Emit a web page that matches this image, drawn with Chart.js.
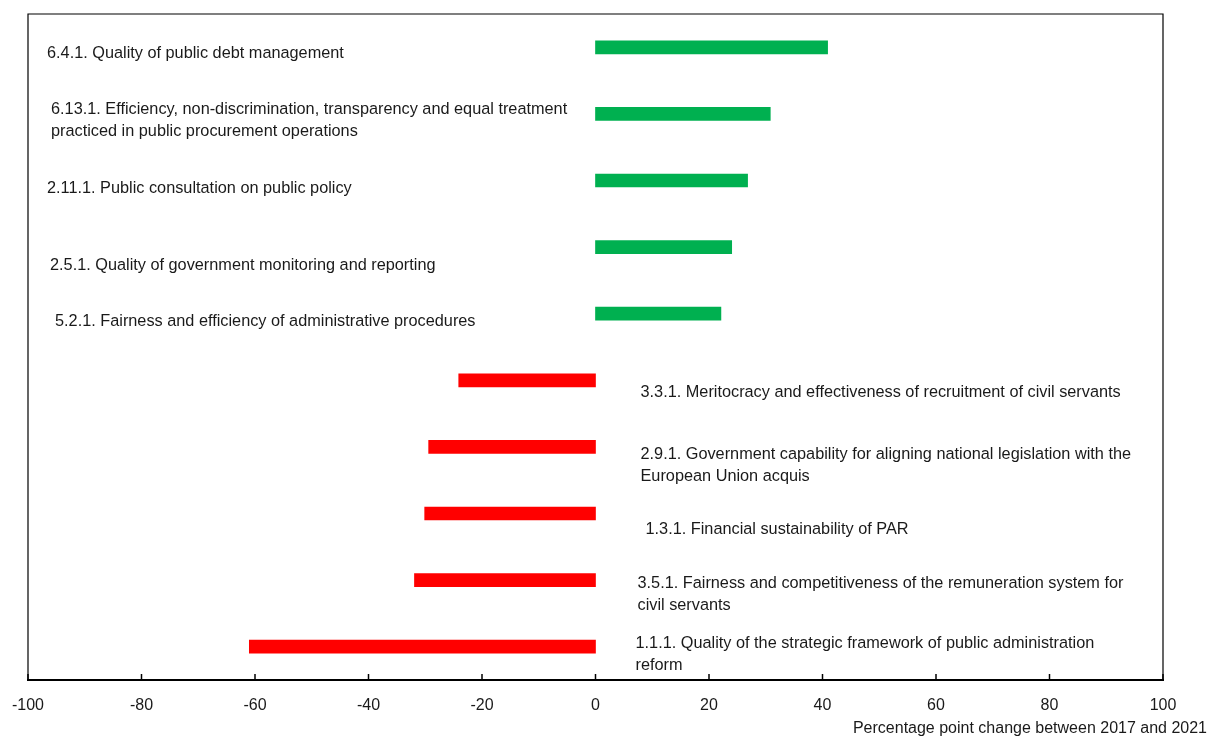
<!DOCTYPE html>
<html lang="en">
<head>
  <meta charset="UTF-8" />
  <title>Change in PAR indicators, 2017-2021</title>
  <script src="https://cdn.jsdelivr.net/npm/chart.js"></script>
  <style>
    html, body { margin: 0; padding: 0; background: #fff; }
    #wrap { width: 1211px; height: 738px; position: relative; }
  </style>
</head>
<body>
  <div id="wrap"><canvas id="parChart"></canvas></div>
  <script>
    // indicator names, one entry per line of the printed label
    const indicators = [
      ['6.4.1. Quality of public debt management'],
      ['6.13.1. Efficiency, non-discrimination, transparency and equal treatment', 'practiced in public procurement operations'],
      ['2.11.1. Public consultation on public policy'],
      ['2.5.1. Quality of government monitoring and reporting'],
      ['5.2.1. Fairness and efficiency of administrative procedures'],
      ['3.3.1. Meritocracy and effectiveness of recruitment of civil servants'],
      ['2.9.1. Government capability for aligning national legislation with the', 'European Union acquis'],
      ['1.3.1. Financial sustainability of PAR'],
      ['3.5.1. Fairness and competitiveness of the remuneration system for', 'civil servants'],
      ['1.1.1. Quality of the strategic framework of public administration', 'reform']
    ];
    // percentage point change between 2017 and 2021
    const changes = [40.9, 30.8, 26.8, 24.0, 22.1, -24.1, -29.4, -30.1, -31.9, -61.0];
    const xTicks = [-100, -80, -60, -40, -20, 0, 20, 40, 60, 80, 100];
    const xTitle = 'Percentage point change between 2017 and 2021';

    const GREEN = '#00B050';
    const RED = '#FF0000';
    const TEXT = '#1a1a1a';
    const FONT = '"Liberation Sans", Arial, sans-serif';

    // where each label sits: dx from left frame (positive bars) or from zero line (negative bars), dy from bar centre
    const labelPos = [
      { dx: 19, dy: 6 }, { dx: 23, dy: -4 }, { dx: 19, dy: 8 }, { dx: 22, dy: 18 }, { dx: 27, dy: 8 },
      { dx: 45, dy: 12 }, { dx: 45, dy: 8 }, { dx: 50, dy: 16 }, { dx: 42, dy: 3 }, { dx: 40, dy: -3 }
    ];

    const framePlugin = {
      id: 'frame',
      afterDraw(chart) {
        const { ctx, chartArea: a, scales: { x, y } } = chart;
        ctx.save();
        // box
        ctx.strokeStyle = '#000';
        ctx.lineWidth = 1.2;
        ctx.beginPath();
        ctx.moveTo(a.left, a.bottom);
        ctx.lineTo(a.left, a.top);
        ctx.lineTo(a.right, a.top);
        ctx.lineTo(a.right, a.bottom);
        ctx.stroke();
        // x axis line and inward ticks
        ctx.lineWidth = 2;
        ctx.beginPath();
        ctx.moveTo(a.left - 1, a.bottom);
        ctx.lineTo(a.right + 1, a.bottom);
        ctx.stroke();
        ctx.lineWidth = 1.5;
        xTicks.forEach(v => {
          const px = x.getPixelForValue(v);
          ctx.beginPath();
          ctx.moveTo(px, a.bottom);
          ctx.lineTo(px, a.bottom - 6);
          ctx.stroke();
        });
        // indicator labels
        ctx.fillStyle = TEXT;
        ctx.font = '16.3px ' + FONT;
        ctx.textAlign = 'left';
        ctx.textBaseline = 'middle';
        const zero = x.getPixelForValue(0);
        indicators.forEach((lines, i) => {
          const p = labelPos[i];
          const cy = y.getPixelForValue(i) + p.dy;
          const lx = changes[i] >= 0 ? a.left + p.dx : zero + p.dx;
          lines.forEach((t, k) => ctx.fillText(t, lx, cy + k * 22));
        });
        // axis title, bottom right
        ctx.font = '16px ' + FONT;
        ctx.textAlign = 'right';
        ctx.fillText(xTitle, chart.width - 4, a.bottom + 49);
        ctx.restore();
      }
    };

    new Chart(document.getElementById('parChart'), {
      type: 'bar',
      data: {
        labels: indicators.map(l => l.join(' ')),
        datasets: [{
          data: changes,
          backgroundColor: changes.map(v => v >= 0 ? GREEN : RED),
          barThickness: 13,
          borderWidth: 0
        }]
      },
      options: {
        indexAxis: 'y',
        responsive: true,
        maintainAspectRatio: false,
        animation: false,
        layout: { padding: { left: 28, right: 48, top: 14, bottom: 0 } },
        plugins: {
          legend: { display: false },
          tooltip: { enabled: false }
        },
        scales: {
          x: {
            min: -100,
            max: 100,
            afterBuildTicks: s => { s.ticks = xTicks.map(v => ({ value: v })); },
            afterFit: s => { s.height = 58; s.paddingLeft = 0; s.paddingRight = 0; },
            grid: { display: false, drawTicks: false },
            border: { display: false },
            ticks: {
              padding: 16,
              maxRotation: 0,
              color: TEXT,
              font: { family: FONT, size: 16 }
            }
          },
          y: {
            display: false,
            grid: { display: false }
          }
        }
      },
      plugins: [framePlugin]
    });
  </script>
</body>
</html>
